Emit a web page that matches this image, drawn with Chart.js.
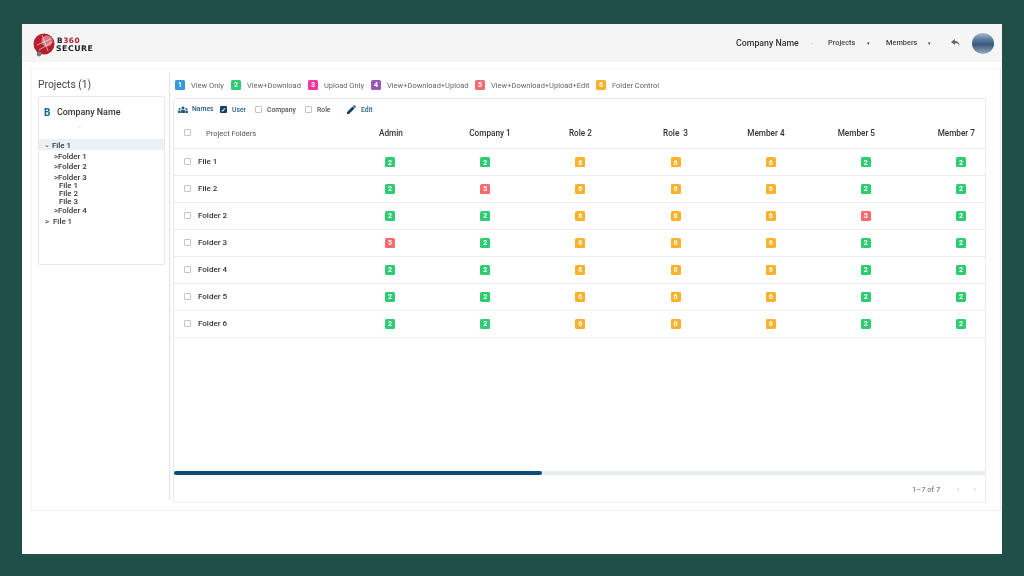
<!DOCTYPE html>
<html><head><meta charset="utf-8"><title>Project permissions</title>
<script src="https://cdn.jsdelivr.net/npm/chart.js@4"></script>
<style>
html,body{margin:0;padding:0;width:1024px;height:576px;overflow:hidden;background:#204f49;font-family:Roboto,sans-serif;color:#333}
.b{position:absolute;box-sizing:border-box}
.t{position:absolute;transform:translateY(-50%);white-space:nowrap;line-height:1;will-change:transform}
.k{position:absolute;width:10px;height:10px;border-radius:1.5px;color:#fff;font:700 7px/10px Roboto;text-align:center;will-change:transform}
.c{position:absolute;width:7px;height:7px;box-sizing:border-box;border:1px solid #c4c4c4;border-radius:1px;background:#fff}
canvas{position:absolute}
.tr{font:500 7.9px Roboto;color:#333}
.lg{font:400 7.5px Roboto;color:#666}
.ctl{font:500 6.8px Roboto}
</style></head><body>
<div class="b" style="left:22px;top:24px;width:980px;height:530px;background:#fff"></div>
<div class="b" style="left:22px;top:24px;width:980px;height:38px;background:#f5f5f5"></div>
<div class="b" style="left:31px;top:68px;width:970px;height:443px;border:1px solid #eeeeee;border-top-color:#f3f3f3;border-left-color:#f3f3f3"></div>

<!-- logo -->
<svg class="b" style="left:33px;top:32px" width="24" height="26" viewBox="0 0 24 26">
<circle cx="11" cy="12" r="10.5" fill="#b5202c"/><circle cx="14" cy="9" r="5.5" fill="#e8a0a5" opacity=".7"/>
<path d="M4 13l14-6M6 18l13-8M9 3l6 16" stroke="#fff" stroke-width=".8" opacity=".7"/>
<circle cx="6" cy="22" r="2.4" fill="#777"/></svg>
<div class="t" style="left:57px;top:40.5px;font:800 7.4px/1 'DejaVu Sans';letter-spacing:.5px;color:#222">B<span style="color:#b5202c">360</span></div>
<div class="t" style="left:56px;top:48.5px;font:800 7.8px/1 'DejaVu Sans';letter-spacing:.5px;color:#222">SECURE</div>

<!-- nav -->
<div class="t" style="left:736px;top:43px;font:500 8.8px Roboto;color:#333">Company Name</div>
<div class="t" style="left:811px;top:43px;font:400 8px Roboto;color:#bbb">-</div>
<div class="t" style="left:828px;top:42px;font:500 7.4px Roboto;color:#444">Projects</div>
<div class="t" style="left:867px;top:43px;font:400 5px Roboto;color:#444">&#9662;</div>
<div class="t" style="left:886px;top:42px;font:500 7.4px Roboto;color:#444">Members</div>
<div class="t" style="left:928px;top:43px;font:400 5px Roboto;color:#444">&#9662;</div>
<svg class="b" style="left:951px;top:39px" width="9" height="8" viewBox="0 0 9 8"><path d="M0 3L4 0v2c3 0 4 2 5 5-1-2-3-3-5-3v2z" fill="#666"/></svg>
<div class="b" style="left:972px;top:33px;width:22px;height:21px;border-radius:50%;background:linear-gradient(#a9bccf 0%,#5f81a1 28%,#3a5a78 55%,#93adc4 100%)"></div>

<!-- sidebar -->
<div class="t" style="left:38px;top:84px;font:400 10.3px Roboto;color:#444">Projects (1)</div>
<div class="b" style="left:169px;top:73px;width:1px;height:426px;background:#e3e3e3"></div>
<div class="b" style="left:38px;top:96px;width:127px;height:169px;border:1px solid #e8e8e8;border-radius:2px"></div>
<div class="t" style="left:44px;top:112px;font:800 10px Roboto;color:#1b6a96">B</div>
<div class="t" style="left:57px;top:111.5px;font:500 8.9px Roboto;color:#333">Company Name</div>
<div class="t" style="left:79px;top:126px;font:400 6px Roboto;color:#bbb">-</div>
<div class="b" style="left:39px;top:139px;width:125px;height:11px;background:#ebf1f5"></div>
<div class="t" style="left:44px;top:144px;font:500 7.4px Roboto;color:#444">&#8964;</div>
<div class="t tr" style="left:52px;top:144.5px">File 1</div>
<div class="t tr" style="left:54px;top:155.5px">&gt;Folder 1</div>
<div class="t tr" style="left:54px;top:166px">&gt;Folder 2</div>
<div class="t tr" style="left:54px;top:176.5px">&gt;Folder 3</div>
<div class="t tr" style="left:59px;top:185px">File 1</div>
<div class="t tr" style="left:59px;top:193px">File 2</div>
<div class="t tr" style="left:59px;top:201px">File 3</div>
<div class="t tr" style="left:54px;top:209.5px">&gt;Folder 4</div>
<div class="t tr" style="left:45px;top:221px">&gt;&nbsp;&nbsp;File 1</div>

<!-- legend -->
<div class="k" style="left:175px;top:80px;background:#3498db">1</div><div class="t lg" style="left:191px;top:85px">View Only</div>
<div class="k" style="left:231px;top:80px;background:#2ecc71">2</div><div class="t lg" style="left:247px;top:85px">View+Download</div>
<div class="k" style="left:308px;top:80px;background:#f0359f">3</div><div class="t lg" style="left:324px;top:85px">Upload Only</div>
<div class="k" style="left:371px;top:80px;background:#9b59b6">4</div><div class="t lg" style="left:387px;top:85px">View+Download+Upload</div>
<div class="k" style="left:475px;top:80px;background:#f96a6f">5</div><div class="t lg" style="left:491px;top:85px">View+Download+Upload+Edit</div>
<div class="k" style="left:596px;top:80px;background:#fbb12a">6</div><div class="t lg" style="left:612px;top:85px">Folder Control</div>

<!-- table card -->
<div class="b" style="left:173px;top:98px;width:813px;height:405px;border:1px solid #ebebeb;border-radius:2px"></div>
<svg class="b" style="left:178px;top:106px" width="10" height="7" viewBox="0 0 10 7"><g fill="#1e5a85"><circle cx="5" cy="2" r="1.5"/><circle cx="1.6" cy="3" r="1"/><circle cx="8.4" cy="3" r="1"/><rect x="2.8" y="4" width="4.4" height="3"/><rect x="0" y="4.6" width="2.4" height="2.4"/><rect x="7.6" y="4.6" width="2.4" height="2.4"/></g></svg>
<div class="t ctl" style="left:192px;top:109px;color:#275f87">Names</div>
<div class="b" style="left:220px;top:106px;width:7px;height:7px;background:#163f68;border-radius:1px;color:#fff;font:700 6px/7px Roboto;text-align:center">&#10003;</div>
<div class="t ctl" style="left:232px;top:109.5px;color:#275f87">User</div>
<div class="c" style="left:255px;top:106px"></div><div class="t ctl" style="left:267px;top:109.5px;color:#555">Company</div>
<div class="c" style="left:305px;top:106px"></div><div class="t ctl" style="left:317px;top:109.5px;color:#555">Role</div>
<svg class="b" style="left:347px;top:105px" width="9" height="9" viewBox="0 0 9 9"><path d="M0 9V7l5.5-5.5 2 2L2 9zM6 1l1-1 2 2-1 1z" fill="#163f68"/></svg>
<div class="t ctl" style="left:361px;top:109.5px;color:#275f87">Edit</div>

<!-- checkboxes -->
<div class="c" style="left:184px;top:129px"></div>
<div class="c" style="left:184px;top:158px"></div>
<div class="c" style="left:184px;top:185px"></div>
<div class="c" style="left:184px;top:212px"></div>
<div class="c" style="left:184px;top:239px"></div>
<div class="c" style="left:184px;top:266px"></div>
<div class="c" style="left:184px;top:293px"></div>
<div class="c" style="left:184px;top:320px"></div>

<canvas id="chart" width="811" height="246" style="left:174px;top:120px"></canvas>

<!-- scrollbar + pagination -->
<div class="b" style="left:174px;top:471px;width:811px;height:4px;background:#e7eff4"></div>
<div class="b" style="left:174px;top:471px;width:368px;height:4px;background:#0e4c78;border-radius:2px"></div>
<div class="t" style="left:912px;top:488.5px;font:400 7.5px Roboto;color:#666">1–7 of 7</div>
<div class="t" style="left:957px;top:488.5px;font:400 8px Roboto;color:#c8c8c8">&#8249;</div>
<div class="t" style="left:974px;top:488.5px;font:400 8px Roboto;color:#c8c8c8">&#8250;</div>

<script>
// Table data: columns, rows and the permission level of every cell
const rows = ['File 1','File 2','Folder 2','Folder 3','Folder 4','Folder 5','Folder 6'];
const columns = ['Admin','Company 1','Role 2','Role  3','Member 4','Member 5','Member 7'];
const admin    = [2,2,2,5,2,2,2];
const company1 = [2,5,2,2,2,2,2];
const role2    = [6,6,6,6,6,6,6];
const role3    = [6,6,6,6,6,6,6];
const member4  = [6,6,6,6,6,6,6];
const member5  = [2,2,5,2,2,2,2];
const member7  = [2,2,2,2,2,2,2];
const levelNames  = {2:'View+Download',5:'View+Download+Upload+Edit',6:'Folder Control'};
const levelColors = {2:'#2ecc71',5:'#f96a6f',6:'#fbb12a'};
const headerLabels = ['Project Folders',...columns];
const headerTicks  = [-1.67,0.01,1.05,2,3,3.95,4.9,5.95];

const matrix = [admin,company1,role2,role3,member4,member5,member7];

function sprite(color){
  const c=document.createElement('canvas');c.width=10;c.height=10;
  const g=c.getContext('2d');g.fillStyle=color;g.beginPath();g.roundRect(0,0,10,10,1.6);g.fill();
  return c;
}
const datasets = Object.keys(levelNames).map(level=>{
  const data=[];
  matrix.forEach((col,x)=>col.forEach((v,r)=>{ if(v==+level) data.push({x,y:rows[r]}); }));
  return {label:levelNames[level],level,data,pointStyle:sprite(levelColors[level]),pointRadius:5,pointHoverRadius:5,showLine:false,clip:false};
});

const badgeDigits = {
  id:'badgeDigits',
  afterDatasetsDraw(chart){
    const g=chart.ctx;g.save();
    g.fillStyle='#fff';g.font='700 7px Roboto';g.textAlign='center';g.textBaseline='middle';
    chart.data.datasets.forEach((ds,i)=>{
      chart.getDatasetMeta(i).data.forEach(el=>g.fillText(ds.level,el.x,el.y+.5));
    });
    g.restore();
  }
};

new Chart(document.getElementById('chart'),{
  type:'scatter',
  data:{datasets},
  plugins:[badgeDigits],
  options:{
    responsive:false,animation:false,
    layout:{autoPadding:false,padding:{bottom:2}},
    plugins:{legend:{display:false},tooltip:{enabled:false}},
    scales:{
      x:{type:'linear',position:'top',min:-2.27,max:6.252,
        grid:{display:false},border:{display:false},
        afterBuildTicks(a){a.ticks=headerTicks.map(value=>({value}));},
        afterFit(a){a.height=28;},
        ticks:{autoSkip:false,maxRotation:0,padding:2,
          callback:(v,i)=>headerLabels[i],
          font:c=>({family:'Roboto',size:c.index==0?7.5:8.2,weight:c.index==0?'400':'500'}),
          color:c=>c.index==0?'#555':'#333'}},
      y:{type:'category',labels:rows,offset:true,position:'left',
        grid:{offset:true,color:'#ececec',drawTicks:false},border:{display:false},
        afterFit(a){a.width=0;},
        ticks:{mirror:true,padding:24,autoSkip:false,color:'#333',font:{family:'Roboto',size:8,weight:'500'}}}
    }
  }
});
</script>
</body></html>
